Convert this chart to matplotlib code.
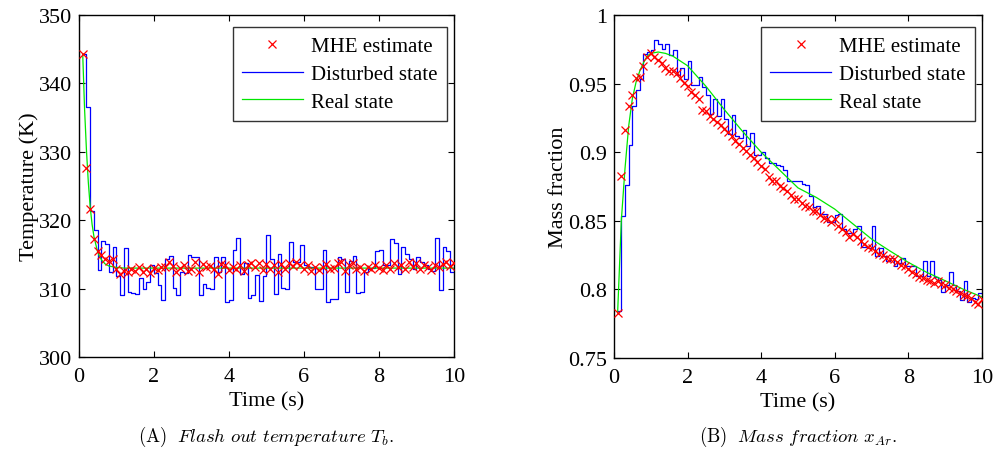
import numpy as np
import matplotlib
matplotlib.use("Agg")
import matplotlib.pyplot as plt

plt.rcParams['font.family'] = ['Liberation Serif', 'DejaVu Serif']
plt.rcParams['mathtext.fontset'] = 'cm'

# sample times (s), one sample every 0.1 s
t = np.round(np.arange(1, 101) * 0.1, 1)

# ---- panel A: flash out temperature (K)
temp_disturbed = [
    344.3, 336.6, 321.3, 318.5, 312.7, 317.0, 316.5, 312.4, 316.1, 311.8,
    309.1, 315.9, 309.5, 309.4, 309.2, 311.5, 309.9, 311.0, 313.4, 312.3,
    310.6, 308.3, 314.3, 314.8, 310.1, 309.0, 312.5, 312.3, 314.9, 314.6,
    314.6, 309.1, 310.7, 310.1, 310.0, 314.6, 312.4, 314.6, 308.0, 308.3,
    315.6, 317.4, 312.2, 313.8, 308.7, 309.1, 312.0, 308.2, 311.8, 317.9,
    314.4, 309.2, 315.1, 310.1, 310.0, 316.8, 313.9, 313.9, 316.4, 313.5,
    313.2, 313.2, 309.9, 309.9, 315.6, 308.1, 308.5, 308.5, 314.6, 314.4,
    309.5, 314.0, 314.8, 309.3, 309.5, 312.4, 312.9, 313.0, 315.5, 315.6,
    313.5, 313.5, 317.3, 316.6, 312.2, 316.1, 315.1, 314.3, 312.9, 314.6,
    313.9, 313.5, 312.9, 312.6, 317.4, 309.8, 316.1, 315.5, 312.5, 312.5,
]
temp_mhe = [
    344.3, 327.6, 321.7, 317.2, 315.5, 314.9, 314.3, 314.0, 314.3, 312.8,
    312.2, 312.6, 312.5, 312.8, 312.6, 313.1, 312.4, 312.9, 312.3, 313.0,
    312.7, 313.2, 313.1, 313.9, 313.3, 312.5, 313.0, 313.4, 312.6, 312.8,
    313.9, 312.5, 313.6, 313.2, 313.3, 312.9, 312.2, 313.6, 313.5, 312.7,
    313.2, 312.9, 313.4, 312.6, 313.5, 313.8, 313.1, 313.8, 312.7, 313.6,
    312.9, 313.4, 312.4, 313.6, 312.9, 313.8, 313.3, 313.9, 313.4, 312.9,
    313.5, 312.6, 313.1, 312.7, 313.2, 313.6, 312.8, 313.0, 313.7, 313.9,
    312.6, 313.5, 313.8, 312.9, 313.2, 312.6, 313.1, 312.8, 313.5, 313.0,
    312.7, 313.4, 312.9, 313.7, 313.1, 313.4, 312.8, 313.9, 313.2, 313.7,
    312.9, 313.4, 313.1, 312.7, 313.5, 313.2, 313.6, 313.9, 313.3, 313.8,
]
temp_real_t = [0.1, 0.15, 0.2, 0.25, 0.3, 0.35, 0.4, 0.5, 0.6, 0.7, 0.8, 0.9, 1.0, 1.2, 10.0]
temp_real = [344.3, 336.2, 330.2, 325.5, 321.9, 319.4, 317.6, 315.3, 314.2, 313.6,
             313.3, 313.2, 313.1, 313.0, 313.0]

# ---- panel B: mass fraction x_Ar
frac_disturbed = [
    0.784, 0.8536, 0.876, 0.905, 0.934, 0.945, 0.953, 0.9714, 0.973, 0.9745,
    0.9818, 0.979, 0.975, 0.979, 0.9706, 0.9745, 0.956, 0.9617, 0.9536, 0.9663,
    0.9488, 0.949, 0.955, 0.9476, 0.942, 0.928, 0.939, 0.926, 0.939, 0.924,
    0.913, 0.9274, 0.912, 0.910, 0.916, 0.9046, 0.914, 0.898, 0.898, 0.900,
    0.896, 0.892, 0.892, 0.891, 0.890, 0.887, 0.879, 0.879, 0.879, 0.879,
    0.877, 0.876, 0.868, 0.860, 0.861, 0.855, 0.855, 0.849, 0.849, 0.854,
    0.855, 0.844, 0.841, 0.841, 0.844, 0.846, 0.831, 0.831, 0.830, 0.846,
    0.8245, 0.830, 0.8245, 0.821, 0.823, 0.817, 0.819, 0.823, 0.817, 0.817,
    0.817, 0.810, 0.810, 0.821, 0.810, 0.821, 0.809, 0.807, 0.798, 0.803,
    0.813, 0.803, 0.799, 0.792, 0.806, 0.7905, 0.794, 0.793, 0.797, 0.797,
]
frac_mhe = [
    0.7828, 0.8828, 0.9163, 0.9337, 0.9417, 0.9539, 0.955, 0.9629, 0.969, 0.9726,
    0.969, 0.967, 0.9648, 0.9617, 0.9593, 0.9593, 0.958, 0.9544, 0.9507, 0.9483,
    0.944, 0.942, 0.939, 0.931, 0.930, 0.926, 0.924, 0.922, 0.920, 0.9167,
    0.9148, 0.912, 0.908, 0.906, 0.9027, 0.901, 0.898, 0.8954, 0.8925, 0.890,
    0.8876, 0.8816, 0.879, 0.879, 0.8755, 0.874, 0.872, 0.8687, 0.866, 0.866,
    0.863, 0.861, 0.860, 0.857, 0.857, 0.854, 0.852, 0.851, 0.849, 0.851,
    0.846, 0.844, 0.842, 0.838, 0.840, 0.838, 0.835, 0.833, 0.831, 0.830,
    0.828, 0.826, 0.825, 0.823, 0.822, 0.822, 0.820, 0.818, 0.817, 0.815,
    0.813, 0.811, 0.809, 0.808, 0.807, 0.806, 0.805, 0.806, 0.804, 0.803,
    0.801, 0.800, 0.799, 0.797, 0.796, 0.795, 0.794, 0.791, 0.789, 0.793,
]
frac_real_t = [0.1, 0.2, 0.3, 0.4, 0.5, 0.6, 0.7, 0.8, 0.9, 1.0, 1.2, 1.4, 1.6, 1.8,
               2.0, 2.5, 3.0, 3.5, 4.0, 4.5, 5.0, 5.5, 6.0, 6.5, 7.0, 7.5, 8.0,
               8.5, 9.0, 9.5, 10.0]
frac_real = [0.783, 0.850, 0.888, 0.919, 0.939, 0.951, 0.959, 0.965, 0.970, 0.972,
             0.973, 0.972, 0.970, 0.9665, 0.963, 0.948, 0.931, 0.915, 0.900, 0.887,
             0.874, 0.867, 0.8585, 0.8476, 0.8367, 0.828, 0.8197, 0.8124, 0.8063,
             0.800, 0.7945]

fig = plt.figure(figsize=(9.97, 4.6), dpi=100)
ax1 = fig.add_axes([0.0792, 0.2217, 0.3761, 0.7435])
ax2 = fig.add_axes([0.6158, 0.2196, 0.3691, 0.7457])

panels = [
    (ax1, temp_mhe, temp_disturbed, temp_real_t, temp_real, (300, 350),
     [300, 310, 320, 330, 340, 350], ['300', '310', '320', '330', '340', '350'],
     'Temperature (K)'),
    (ax2, frac_mhe, frac_disturbed, frac_real_t, frac_real, (0.75, 1.0),
     [0.75, 0.8, 0.85, 0.9, 0.95, 1.0], ['0.75', '0.8', '0.85', '0.9', '0.95', '1'],
     'Mass fraction'),
]

for ax, mhe, dist, rt, real, ylim, yt, ytl, ylab in panels:
    ax.plot(t, mhe, 'x', color='red', markersize=6, markeredgewidth=0.9,
            label='MHE estimate', zorder=3)
    ax.plot(t, dist, color='blue', linewidth=0.9, drawstyle='steps-post',
            label='Disturbed state', zorder=2)
    ax.plot(rt, real, color='#00e600', linewidth=0.9, label='Real state', zorder=2.5)
    ax.set_xlim(0, 10)
    ax.set_ylim(*ylim)
    ax.set_xticks([0, 2, 4, 6, 8, 10])
    ax.set_yticks(yt)
    ax.set_yticklabels(ytl)
    ax.tick_params(direction='in', top=True, right=True, length=4, width=0.8,
                   labelsize=16)
    ax.tick_params(axis='x', pad=7)
    ax.tick_params(axis='y', pad=5)
    for s in ax.spines.values():
        s.set_linewidth(1.0)
    ax.set_xlabel('Time (s)', fontsize=16, labelpad=4)
    ax.set_ylabel(ylab, fontsize=16, labelpad=0)
    leg = ax.legend(loc='upper right', bbox_to_anchor=(0.981, 0.965),
                    fontsize=15, frameon=True, fancybox=False,
                    edgecolor='black', borderpad=0.45, labelspacing=0.4,
                    handlelength=2.9, handletextpad=0.4, borderaxespad=0)
    leg.get_frame().set_linewidth(1.0)

fig.text(0.267, 0.05, r'$\mathrm{(A)}\ \ \mathit{Flash\ out\ temperature}\ T_b.$',
         ha='center', va='center', fontsize=13.5)
fig.text(0.80, 0.05, r'$\mathrm{(B)}\ \ \mathit{Mass\ fraction}\ x_{Ar}.$',
         ha='center', va='center', fontsize=13.5)

fig.savefig('out.png', dpi=100)
